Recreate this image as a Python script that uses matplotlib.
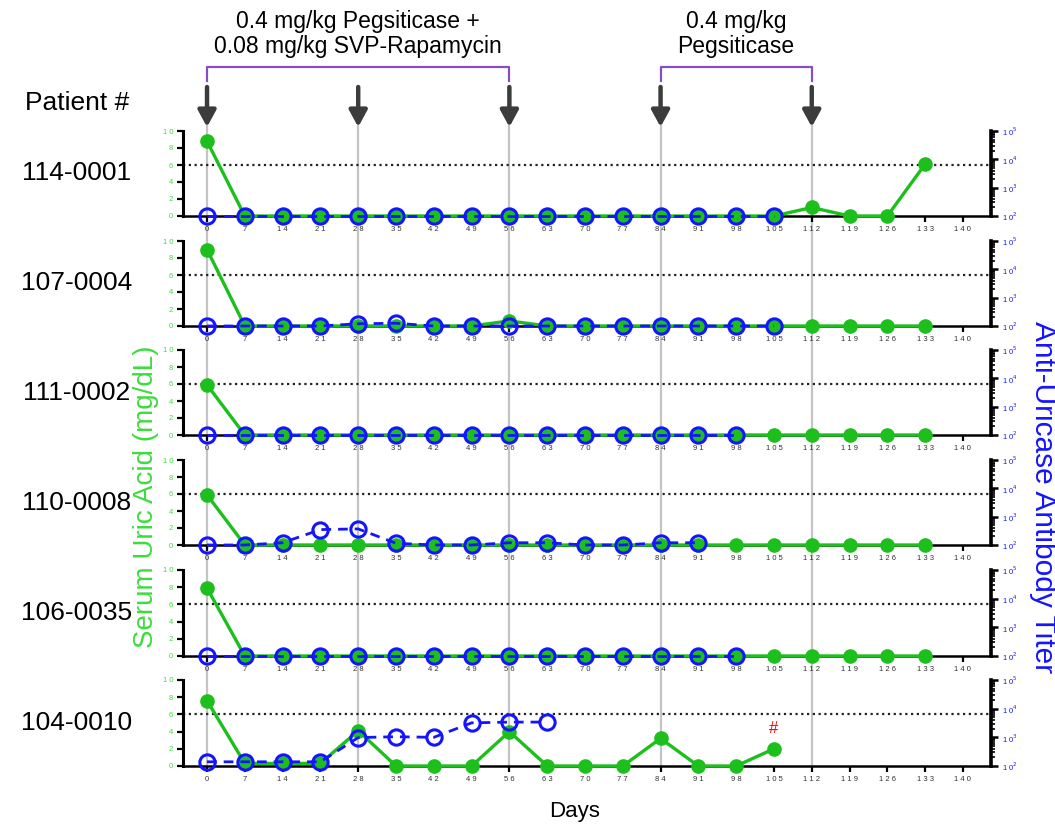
import matplotlib
matplotlib.use("Agg")
import matplotlib.pyplot as plt
import matplotlib.ticker as mticker

plt.rcParams['font.family'] = ['Liberation Sans', 'DejaVu Sans']

# ---------------- data ----------------
patients = ["114-0001", "107-0004", "111-0002", "110-0008", "106-0035", "104-0010"]
days = [0, 7, 14, 21, 28, 35, 42, 49, 56, 63, 70, 77, 84, 91, 98, 105, 112, 119, 126, 133]

uric_114_0001 = [8.8, 0, 0, 0, 0, 0, 0, 0, 0, 0, 0, 0, 0, 0, 0, 0, 1.0, 0, 0, 6.1]
uric_107_0004 = [9.0, 0, 0, 0, 0, 0, 0, 0, 0.6, 0, 0, 0, 0, 0, 0, 0, 0, 0, 0, 0]
uric_111_0002 = [5.9, 0, 0, 0, 0, 0, 0, 0, 0, 0, 0, 0, 0, 0, 0, 0, 0, 0, 0, 0]
uric_110_0008 = [5.9, 0, 0, 0, 0, 0, 0, 0, 0, 0, 0, 0, 0, 0, 0, 0, 0, 0, 0, 0]
uric_106_0035 = [7.9, 0, 0, 0, 0, 0, 0, 0, 0, 0, 0, 0, 0, 0, 0, 0, 0, 0, 0, 0]
uric_104_0010 = [7.6, 0.3, 0.3, 0.3, 4.1, 0, 0, 0, 4.0, 0, 0, 0, 3.2, 0, 0, 2.0]

titer_114_0001 = [100] * 16
titer_107_0004 = [100, 100, 100, 100, 120, 125, 100, 100, 100, 100, 100, 100, 100, 100, 100, 100]
titer_111_0002 = [100] * 15
titer_110_0008 = [100, 100, 120, 350, 370, 115, 100, 100, 120, 120, 100, 100, 120, 120]
titer_106_0035 = [100] * 15
titer_104_0010 = [140, 140, 140, 140, 980, 1050, 1000, 3200, 3400, 3400]

uric_all = [uric_114_0001, uric_107_0004, uric_111_0002, uric_110_0008, uric_106_0035, uric_104_0010]
titer_all = [titer_114_0001, titer_107_0004, titer_111_0002, titer_110_0008, titer_106_0035, titer_104_0010]

xticks = list(range(0, 141, 7))
uric_ticks = [0, 2, 4, 6, 8, 10]
titer_ticks = [1e2, 1e3, 1e4, 1e5]
titer_exps = [2, 3, 4, 5]
dose_days = [0, 28, 56, 84, 112]
regimen1 = "0.4 mg/kg Pegsiticase +\n0.08 mg/kg SVP-Rapamycin"
regimen2 = "0.4 mg/kg\nPegsiticase"
threshold = 6

# ---------------- layout ----------------
W, H = 1055, 831
fig = plt.figure(figsize=(W / 100, H / 100), dpi=100)

def fx(p):
    return p / W

def fy(p):
    return 1 - p / H

XL, XR = 183, 991
XLIM = (-4.45, 145.2)
tops = [131, 241, 350, 460, 570, 680]
bots = [216, 326, 435, 545, 656, 766]

GREEN = '#1dbf1d'
GREEN_T = '#3ddc3d'
BLUE = '#1414ff'

# overlay axes in pixel coords for vertical lines / arrows / brackets
ov = fig.add_axes([fx(XL), fy(bots[-1]), fx(XR) - fx(XL), bots[-1] / H])
ov.set_xlim(*XLIM)
ov.set_ylim(bots[-1], 0)
ov.axis('off')
ov.set_zorder(0)
for d in dose_days:
    ov.plot([d, d], [126, bots[-1]], color='#c4c4c4', lw=1.6, zorder=0)
    ov.annotate('', xy=(d, 127), xytext=(d, 87),
                arrowprops=dict(arrowstyle='-|>,head_length=0.55,head_width=0.3',
                                lw=3.2, color='#3c3c3c', mutation_scale=18,
                                shrinkA=0, shrinkB=0))
PURPLE = '#8a4cc6'
for (a, b) in [(0, 56), (84, 112)]:
    ov.plot([a, a, b, b], [81, 67, 67, 81], color=PURPLE, lw=1.6, solid_joinstyle='round')
ov.text(28, 34, regimen1, ha='center', va='center', fontsize=16.5, linespacing=1.15)
ov.text(98, 34, regimen2, ha='center', va='center', fontsize=16.5, linespacing=1.15)

fig.text(fx(77), fy(103), "Patient #", ha='center', va='center', fontsize=19)

for i in range(6):
    t, b = tops[i], bots[i]
    ax = fig.add_axes([fx(XL), fy(b), fx(XR) - fx(XL), (b - t) / H])
    ax.set_zorder(1)
    ax.patch.set_visible(False)
    ax.set_xlim(*XLIM)
    ax.set_ylim(0, 10)
    for s in ['top', 'right']:
        ax.spines[s].set_visible(False)
    ax.spines['left'].set_linewidth(2.2)
    ax.spines['bottom'].set_linewidth(1.8)
    ax.set_xticks(xticks)
    ax.set_xticklabels([" ".join(str(v)) for v in xticks])
    ax.tick_params(axis='x', length=4, width=1.6, labelsize=5.5, pad=3, labelcolor='#333333')
    ax.set_yticks(uric_ticks)
    ax.set_yticklabels([" ".join(str(v)) for v in uric_ticks])
    ax.tick_params(axis='y', length=4, width=1.6, labelsize=5.5, pad=3, labelcolor=GREEN_T)
    ax.axhline(threshold, color='#222222', ls=(0, (1, 1.6)), lw=1.6, zorder=1)

    u = uric_all[i]
    ax.plot(days[:len(u)], u, color=GREEN, lw=2.4, marker='o', ms=9.5,
            mec=GREEN, mfc=GREEN, clip_on=False, zorder=3)

    tw = ax.twinx()
    tw.set_zorder(2)
    tw.patch.set_visible(False)
    tw.set_yscale('log')
    tw.set_ylim(1e2, 1e5)
    tw.set_xlim(*XLIM)
    for s in ['top', 'left', 'bottom']:
        tw.spines[s].set_visible(False)
    tw.spines['right'].set_linewidth(2.6)
    tw.set_yticks(titer_ticks)
    tw.set_yticklabels([r"1 0$^{%d}$" % e for e in titer_exps])
    tw.yaxis.set_minor_locator(mticker.LogLocator(base=10, subs=range(2, 10), numticks=20))
    tw.yaxis.set_minor_formatter(mticker.NullFormatter())
    tw.tick_params(axis='y', which='major', length=5, width=1.8, labelsize=5.5, pad=3, labelcolor=BLUE)
    tw.tick_params(axis='y', which='minor', length=3, width=1.2)

    tv = titer_all[i]
    tw.plot(days[:len(tv)], tv, color=BLUE, lw=2.0, ls=(0, (3.5, 2.5)), marker='o', ms=11,
            mfc='none', mec=BLUE, mew=2.2, clip_on=False, zorder=4)

    fig.text(fx(77), fy((t + b) / 2), patients[i], ha='center', va='center', fontsize=19)

    if i == 5:
        ax.text(105, 4.4, "#", color='red', ha='center', va='center', fontsize=12)

fig.text(fx(575), fy(812), "Days", ha='center', va='center', fontsize=16)
fig.text(fx(146), fy(497), "Serum Uric Acid (mg/dL)", rotation=90, ha='center', va='center',
         fontsize=20, color=GREEN_T)
fig.text(fx(1043), fy(497), "Anti-Uricase Antibody Titer", rotation=270, ha='center', va='center',
         fontsize=21.5, color=BLUE)

fig.savefig("out.png", dpi=100)
